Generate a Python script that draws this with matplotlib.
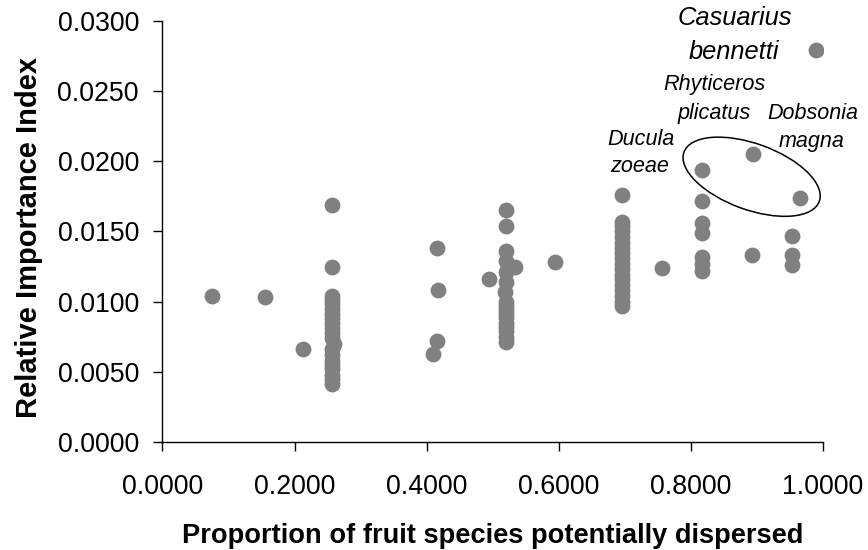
import matplotlib
matplotlib.use('Agg')
import matplotlib.pyplot as plt
from matplotlib.patches import Ellipse
from matplotlib.transforms import ScaledTranslation

plt.rcParams['font.family'] = ['Liberation Sans', 'DejaVu Sans']

# proportion of fruit species dispersed (x) and relative importance index (y)
prop_x = [0.0745, 0.155, 0.212,
          0.2564, 0.2564, 0.2564, 0.2564, 0.2564, 0.2564, 0.2564, 0.2564,
          0.2564, 0.2564, 0.2564, 0.2597, 0.2564, 0.2564, 0.2564, 0.2564,
          0.2564, 0.2564, 0.2564, 0.2564, 0.2564,
          0.410, 0.415, 0.4176, 0.415,
          0.4948,
          0.520, 0.520, 0.520, 0.5337, 0.520, 0.520, 0.520, 0.518,
          0.520, 0.520, 0.520, 0.520, 0.520, 0.520, 0.520, 0.520, 0.520, 0.520,
          0.594,
          0.695, 0.695, 0.695, 0.695, 0.695, 0.695, 0.695, 0.695, 0.695,
          0.695, 0.695, 0.695, 0.695, 0.695, 0.695, 0.695, 0.695, 0.695,
          0.7558,
          0.8168, 0.8168, 0.8168, 0.8168, 0.8168, 0.8168, 0.8168,
          0.8925, 0.8935,
          0.953, 0.953, 0.953, 0.9652, 0.989]
rii_y = [0.0104, 0.0103, 0.0066,
         0.0169, 0.0125, 0.0104, 0.0101, 0.0098, 0.0095, 0.0091, 0.0088,
         0.0085, 0.0081, 0.0078, 0.0070, 0.0074, 0.0066, 0.0062, 0.0058,
         0.0055, 0.0052, 0.0048, 0.0045, 0.0041,
         0.0063, 0.0072, 0.0108, 0.0138,
         0.0116,
         0.0165, 0.0154, 0.0136, 0.0125, 0.0129, 0.0121, 0.0114, 0.0107,
         0.0100, 0.0097, 0.0094, 0.0091, 0.0088, 0.0085, 0.0082, 0.0079, 0.0075, 0.0071,
         0.0128,
         0.0176, 0.0157, 0.0154, 0.0150, 0.0146, 0.0142, 0.0138, 0.0135, 0.0131,
         0.0127, 0.0123, 0.0119, 0.0116, 0.0112, 0.0108, 0.0104, 0.0100, 0.0097,
         0.0124,
         0.0194, 0.0172, 0.0156, 0.0149, 0.0132, 0.0127, 0.0122,
         0.0133, 0.0205,
         0.0147, 0.0133, 0.0126, 0.0174, 0.0279]

x_ticks = [0.0, 0.2, 0.4, 0.6, 0.8, 1.0]
y_ticks = [0.0, 0.005, 0.010, 0.015, 0.020, 0.025, 0.030]

fig = plt.figure(figsize=(8.68, 5.5), dpi=100)
ax = fig.add_axes([0.1872, 0.1964, 0.7609, 0.7655])

ax.scatter(prop_x, rii_y, s=130, color='#808080', linewidths=0, zorder=3)

ax.set_xlim(0, 1.0)
ax.set_ylim(0, 0.03)
ax.set_xticks(x_ticks)
ax.set_yticks(y_ticks)
ax.set_xticklabels(['%.4f' % v for v in x_ticks])
ax.set_yticklabels(['%.4f' % v for v in y_ticks])
ax.tick_params(axis='both', direction='out', length=6.5, width=1, labelsize=19.3)
ax.tick_params(axis='x', pad=16.5)
ax.tick_params(axis='y', pad=10.5)
for side in ['top', 'right']:
    ax.spines[side].set_visible(False)
for side in ['left', 'bottom']:
    ax.spines[side].set_linewidth(1)

ax.set_xlabel('Proportion of fruit species potentially dispersed',
              fontsize=19.6, fontweight='bold', va='center')
ax.xaxis.set_label_coords(0.5, -0.224)
ax.set_ylabel('Relative Importance Index', fontsize=21, fontweight='bold', va='center')
ax.yaxis.set_label_coords(-0.202, 0.487)

# species labels
lab = dict(ha='center', va='center', style='italic')
ax.text(0.866, 0.0302, 'Casuarius', fontsize=18.4, **lab)
ax.text(0.865, 0.0278, 'bennetti', fontsize=18.4, **lab)
ax.text(0.835, 0.02544, 'Rhyticeros', fontsize=15.6, **lab)
ax.text(0.835, 0.02344, 'plicatus', fontsize=15.6, **lab)
ax.text(0.985, 0.02344, 'Dobsonia', fontsize=15.5, **lab)
ax.text(0.983, 0.0214, 'magna', fontsize=15.5, **lab)
ax.text(0.7245, 0.02152, 'Ducula', fontsize=15.6, **lab)
ax.text(0.723, 0.0196, 'zoeae', fontsize=15.6, **lab)

# ellipse around the three points
trans = fig.dpi_scale_trans + ScaledTranslation(0.892, 0.0189, ax.transData)
ell = Ellipse((0, 0), 1.44, 0.66, angle=-20, fill=False, edgecolor='black',
              linewidth=1.1, transform=trans, clip_on=False)
ax.add_patch(ell)

fig.savefig('out.png', dpi=100)
